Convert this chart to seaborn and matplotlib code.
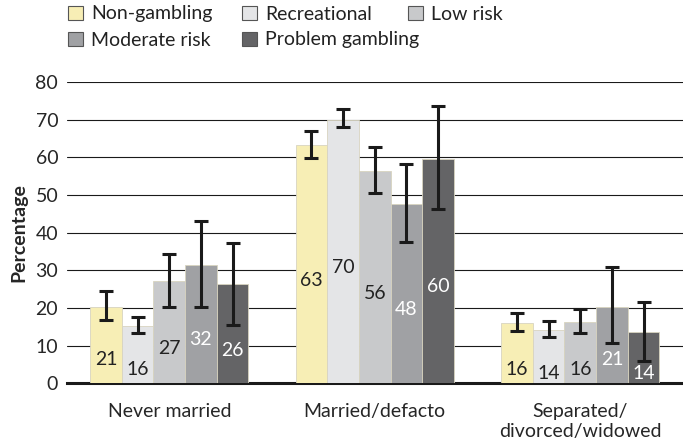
import numpy as np
import pandas as pd
import matplotlib
matplotlib.use("Agg")
import matplotlib.pyplot as plt
from matplotlib.patches import Patch
import seaborn as sns

CATEGORIES = ["Never married", "Married/defacto", "Separated/\ndivorced/widowed"]
GROUPS = ["Non-gambling", "Recreational", "Low risk", "Moderate risk", "Problem gambling"]
COLORS = ["#F7EEB5", "#E4E5E7", "#C8C9CB", "#A0A1A4", "#646466"]
LABEL_COLORS = ["#222222", "#222222", "#222222", "white", "white"]

# bar heights per group, one value per category
BARS = {
    "Non-gambling":     [20.2, 63.2, 15.9],
    "Recreational":     [15.3, 70.0, 14.1],
    "Low risk":         [27.1, 56.3, 16.3],
    "Moderate risk":    [31.3, 47.6, 20.3],
    "Problem gambling": [26.3, 59.6, 13.6],
}
# printed values inside the bars
LABELS = {
    "Non-gambling":     [21, 63, 16],
    "Recreational":     [16, 70, 14],
    "Low risk":         [27, 56, 16],
    "Moderate risk":    [32, 48, 21],
    "Problem gambling": [26, 60, 14],
}
CI_LOW = {
    "Non-gambling":     [16.7, 59.8, 13.8],
    "Recreational":     [13.4, 67.9, 12.4],
    "Low risk":         [20.2, 50.6, 13.3],
    "Moderate risk":    [20.2, 37.6, 10.6],
    "Problem gambling": [15.6, 46.2, 5.8],
}
CI_HIGH = {
    "Non-gambling":     [24.6, 66.9, 18.7],
    "Recreational":     [17.5, 72.7, 16.5],
    "Low risk":         [34.3, 62.6, 19.6],
    "Moderate risk":    [43.2, 58.2, 30.8],
    "Problem gambling": [37.3, 73.6, 21.7],
}

rows = []
for g in GROUPS:
    for c, v in zip(CATEGORIES, BARS[g]):
        rows.append({"status": c, "group": g, "pct": v})
df = pd.DataFrame(rows)

sns.set_style("white")
plt.rcParams["font.family"] = ["Lato", "DejaVu Sans"]
plt.rcParams["text.color"] = "#222222"

fig = plt.figure(figsize=(6.83, 4.44), dpi=100)
ax = fig.add_axes([0.0974, 0.1367, 0.9026, 0.679])

sns.barplot(data=df, x="status", y="pct", hue="group", order=CATEGORIES,
            hue_order=GROUPS, palette=COLORS, saturation=1, width=0.77,
            errorbar=None, edgecolor="#D8D4C0", linewidth=0.6, legend=False,
            ax=ax, zorder=3)

for gi, (g, cont) in enumerate(zip(GROUPS, ax.containers)):
    for ci, bar in enumerate(cont):
        x = bar.get_x() + bar.get_width() / 2
        lo, hi = CI_LOW[g][ci], CI_HIGH[g][ci]
        mid = (lo + hi) / 2
        ax.errorbar(x, mid, yerr=(hi - lo) / 2, fmt="none", ecolor="#1a1a1a",
                    elinewidth=2.2, capsize=5, capthick=2.2, zorder=5)
        lab = LABELS[g][ci]
        ax.text(x, lab / 2 - 4.3, str(lab), ha="center", va="center",
                fontsize=14, color=LABEL_COLORS[gi], zorder=6)

ax.set_xlim(-0.5, 2.5)
ax.set_ylim(0, 80)
ax.set_yticks(range(0, 81, 10))
ax.yaxis.grid(True, color="#1a1a1a", linewidth=0.8, zorder=0)
ax.set_axisbelow(True)
for s in ["left", "right", "top"]:
    ax.spines[s].set_visible(False)
ax.spines["bottom"].set_linewidth(2.2)
ax.spines["bottom"].set_color("#1a1a1a")
ax.spines["bottom"].set_zorder(2)
ax.set_xticks([0.5, 1.5], minor=True)
ax.tick_params(axis="x", which="minor", length=4, width=1.5, color="#1a1a1a")
ax.tick_params(axis="x", which="major", length=0, pad=14, labelsize=14)
ax.tick_params(axis="y", length=0, pad=6, labelsize=14)
ax.set_xlabel("")
ax.set_ylabel("Percentage", fontsize=14, fontweight="bold", labelpad=6)

# legend entries laid out like the original (not a strict grid)
W, H = 683, 444
legend_pos = [(68, 14), (242, 14), (408, 14), (68, 40), (242, 40)]
for g, c, (px, py) in zip(GROUPS, COLORS, legend_pos):
    h = Patch(facecolor=c, edgecolor="#555555", linewidth=0.8)
    leg = fig.legend([h], [g], loc="center left",
                     bbox_to_anchor=(px / W, 1 - py / H), frameon=False,
                     fontsize=14, handlelength=0.75, handleheight=0.75,
                     handletextpad=0.45, borderpad=0, borderaxespad=0)

fig.savefig("out.png", dpi=100)
